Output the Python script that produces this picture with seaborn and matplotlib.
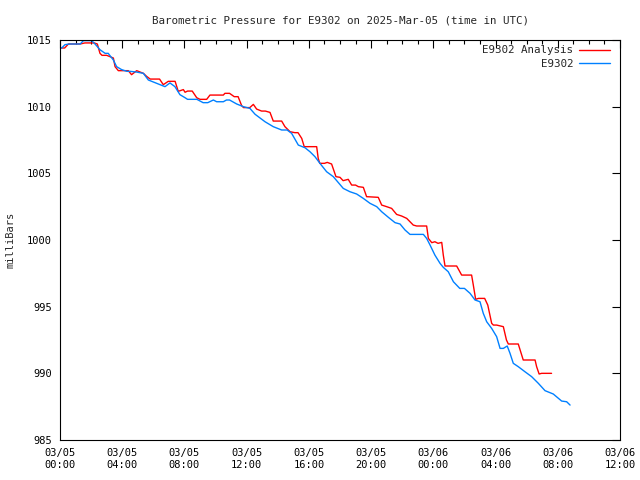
import pandas as pd
import matplotlib
matplotlib.use('Agg')
import matplotlib.pyplot as plt
import matplotlib.dates as mdates
import seaborn as sns

# Hours after 2025-03-05 00:00 UTC and pressure (mb)
station_hours = [0.0, 0.11, 0.32, 0.6, 1.3, 1.5, 2.04, 2.25, 2.57, 2.9, 3.1, 3.43, 3.64, 3.96,
                 4.3, 4.5, 4.9, 5.36, 5.68, 6.43, 6.75, 7.07, 7.39, 7.71, 8.04, 8.2, 8.8, 9.2,
                 9.5, 9.86, 10.07, 10.5, 10.7, 10.9, 11.36, 11.79, 12.21, 12.54, 13.18, 13.71,
                 14.25, 14.6, 14.89, 15.32, 15.75, 16.07, 16.39, 16.71, 17.14, 17.57, 18.21,
                 18.64, 19.07, 19.5, 19.93, 20.36, 20.68, 21.11, 21.54, 21.86, 22.18, 22.5,
                 23.36, 23.57, 23.79, 24.1, 24.43, 24.64, 24.96, 25.29, 25.7, 26.0, 26.36,
                 26.68, 27.0, 27.21, 27.43, 27.75, 28.07, 28.29, 28.5, 28.75, 28.93, 29.14,
                 29.46, 29.89, 30.32, 30.75, 31.18, 31.71, 32.25, 32.57, 32.79]
station_mb = [1014.4, 1014.4, 1014.65, 1014.7, 1014.7, 1014.95, 1014.95, 1014.7, 1014.27,
              1014.0, 1014.0, 1013.5, 1013.0, 1012.78, 1012.65, 1012.65, 1012.6, 1012.5,
              1012.0, 1011.65, 1011.5, 1011.78, 1011.5, 1010.9, 1010.67, 1010.55, 1010.55,
              1010.3, 1010.3, 1010.5, 1010.37, 1010.37, 1010.5, 1010.5, 1010.2, 1010.0,
              1009.87, 1009.43, 1008.87, 1008.5, 1008.25, 1008.25, 1008.0, 1007.12, 1006.92,
              1006.62, 1006.25, 1005.75, 1005.12, 1004.75, 1003.87, 1003.62, 1003.45,
              1003.12, 1002.75, 1002.5, 1002.12, 1001.7, 1001.3, 1001.2, 1000.75, 1000.42,
              1000.42, 1000.12, 999.62, 998.87, 998.25, 997.95, 997.62, 996.87, 996.37,
              996.37, 996.0, 995.5, 995.37, 994.5, 993.87, 993.37, 992.75, 991.87, 991.87,
              992.05, 991.5, 990.75, 990.5, 990.12, 989.75, 989.25, 988.7, 988.45, 987.92,
              987.87, 987.62]

analysis_hours = [0.0, 0.3, 0.54, 1.29, 1.6, 2.2, 2.4, 2.57, 2.7, 3.0, 3.43, 3.54, 3.75, 4.39,
                  4.6, 4.93, 5.36, 5.57, 5.8, 6.4, 6.64, 6.96, 7.4, 7.6, 7.93, 8.04, 8.2, 8.5,
                  8.79, 9.0, 9.43, 9.64, 10.5, 10.6, 10.9, 11.2, 11.45, 11.68, 11.8, 12.2,
                  12.43, 12.64, 12.96, 13.2, 13.5, 13.71, 14.25, 14.46, 14.79, 15.1, 15.3,
                  15.54, 15.7, 16.5, 16.6, 16.7, 17.0, 17.18, 17.46, 17.74, 18.0, 18.2, 18.53,
                  18.75, 19.0, 19.18, 19.5, 19.71, 20.46, 20.68, 21.0, 21.32, 21.64, 21.96,
                  22.29, 22.71, 22.93, 23.57, 23.68, 23.9, 24.1, 24.3, 24.54, 24.64, 24.75,
                  25.5, 25.82, 26.46, 26.57, 26.72, 26.9, 27.3, 27.5, 27.75, 27.86, 28.07,
                  28.5, 28.7, 28.82, 29.46, 29.78, 30.54, 30.64, 30.8, 30.96, 31.6]
analysis_mb = [1014.4, 1014.4, 1014.7, 1014.7, 1014.78, 1014.78, 1014.7, 1014.0, 1013.85,
               1013.85, 1013.65, 1013.0, 1012.7, 1012.7, 1012.4, 1012.7, 1012.5, 1012.27,
               1012.07, 1012.07, 1011.65, 1011.9, 1011.9, 1011.15, 1011.28, 1011.08, 1011.17,
               1011.17, 1010.67, 1010.55, 1010.55, 1010.87, 1010.87, 1011.0, 1011.0, 1010.75,
               1010.75, 1010.07, 1009.93, 1009.93, 1010.17, 1009.82, 1009.67, 1009.67,
               1009.57, 1008.92, 1008.92, 1008.5, 1008.12, 1008.05, 1008.05, 1007.62, 1007.0,
               1007.0, 1006.12, 1005.75, 1005.75, 1005.82, 1005.7, 1004.75, 1004.7, 1004.45,
               1004.55, 1004.12, 1004.12, 1004.0, 1003.95, 1003.25, 1003.2, 1002.62, 1002.5,
               1002.37, 1001.92, 1001.8, 1001.62, 1001.12, 1001.05, 1001.05, 1000.12, 999.8,
               999.87, 999.75, 999.82, 998.87, 998.05, 998.05, 997.37, 997.37, 996.62,
               995.55, 995.62, 995.62, 995.12, 993.75, 993.62, 993.62, 993.5, 992.5, 992.2,
               992.2, 991.0, 991.0, 990.5, 989.95, 990.0, 990.0]

start = pd.Timestamp('2025-03-05 00:00')
station_time = start + pd.to_timedelta(station_hours, unit='h')
analysis_time = start + pd.to_timedelta(analysis_hours, unit='h')

sns.set_style('white')
plt.rcParams['font.family'] = ['DejaVu Sans Mono']
plt.rcParams['font.size'] = 7.5

fig = plt.figure(figsize=(6.4, 4.8), dpi=100)
ax = fig.add_axes([60 / 640, 40 / 480, 560 / 640, 400 / 480])

sns.lineplot(x=analysis_time, y=analysis_mb, ax=ax, color='#ff0000', lw=1,
             label='E9302 Analysis', estimator=None, sort=False)
sns.lineplot(x=station_time, y=station_mb, ax=ax, color='#0080ff', lw=1,
             label='E9302', estimator=None, sort=False)

ax.set_xlim(start, start + pd.Timedelta(hours=36))
ax.set_ylim(985, 1015)
ax.set_yticks(range(985, 1016, 5))
ax.xaxis.set_major_locator(mdates.HourLocator(byhour=range(0, 24, 4)))
ax.xaxis.set_minor_locator(mdates.HourLocator())
ax.xaxis.set_major_formatter(mdates.DateFormatter('%m/%d\n%H:%M'))
ax.tick_params(which='both', direction='in', top=True, right=True, colors='black',
               labelsize=7.5)
ax.tick_params(which='major', length=6, width=0.8, pad=6)
ax.tick_params(which='minor', length=3, width=0.8)
for s in ax.spines.values():
    s.set_color('black')
    s.set_linewidth(0.8)

ax.set_title('Barometric Pressure for E9302 on 2025-Mar-05 (time in UTC)', fontsize=7.8, pad=12)
ax.set_ylabel('milliBars', fontsize=7.5, labelpad=8)
ax.set_xlabel('')

ax.legend(loc='upper right', bbox_to_anchor=(1.0, 1.011), frameon=False, markerfirst=False,
          fontsize=7.8, handlelength=2.9, handletextpad=0.5, borderaxespad=0.9,
          borderpad=0.0, labelspacing=0.3)

fig.savefig('out.png', dpi=100)
plt.close(fig)
